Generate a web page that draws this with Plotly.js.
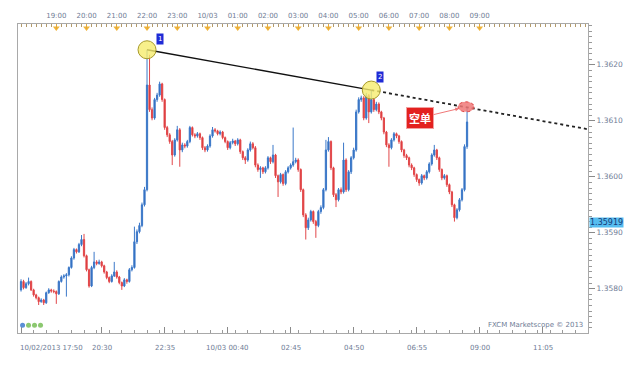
<!DOCTYPE html>
<html>
<head>
<meta charset="utf-8">
<script src="https://cdn.plot.ly/plotly-3.0.1.min.js"></script>
<style>html,body{margin:0;padding:0;background:#fff;}#chart{width:630px;height:365px;}</style>
</head>
<body>
<div id="chart"></div>
<script>
// 5-minute candles, EUR/USD style quotes (FXCM Marketscope), 10/02/2013 17:50 -> 10/03/2013 08:35
const day1Clock = ['17:50','17:55',
 '18:00','18:05','18:10','18:15','18:20','18:25','18:30','18:35','18:40','18:45','18:50','18:55',
 '19:00','19:05','19:10','19:15','19:20','19:25','19:30','19:35','19:40','19:45','19:50','19:55',
 '20:00','20:05','20:10','20:15','20:20','20:25','20:30','20:35','20:40','20:45','20:50','20:55',
 '21:00','21:05','21:10','21:15','21:20','21:25','21:30','21:35','21:40','21:45','21:50','21:55',
 '22:00','22:05','22:10','22:15','22:20','22:25','22:30','22:35','22:40','22:45','22:50','22:55',
 '23:00','23:05','23:10','23:15','23:20','23:25','23:30','23:35','23:40','23:45','23:50','23:55'];
const day2Clock = [
 '00:00','00:05','00:10','00:15','00:20','00:25','00:30','00:35','00:40','00:45','00:50','00:55',
 '01:00','01:05','01:10','01:15','01:20','01:25','01:30','01:35','01:40','01:45','01:50','01:55',
 '02:00','02:05','02:10','02:15','02:20','02:25','02:30','02:35','02:40','02:45','02:50','02:55',
 '03:00','03:05','03:10','03:15','03:20','03:25','03:30','03:35','03:40','03:45','03:50','03:55',
 '04:00','04:05','04:10','04:15','04:20','04:25','04:30','04:35','04:40','04:45','04:50','04:55',
 '05:00','05:05','05:10','05:15','05:20','05:25','05:30','05:35','05:40','05:45','05:50','05:55',
 '06:00','06:05','06:10','06:15','06:20','06:25','06:30','06:35','06:40','06:45','06:50','06:55',
 '07:00','07:05','07:10','07:15','07:20','07:25','07:30','07:35','07:40','07:45','07:50','07:55',
 '08:00','08:05','08:10','08:15','08:20','08:25','08:30','08:35'];

const openPrices = [
 1.35798,1.35813,1.35802,1.35809,1.35813,1.35798,1.35789,1.35784,1.35777,1.35780,
 1.35775,1.35793,1.35798,1.35796,1.35795,1.35791,1.35813,1.35821,1.35823,1.35825,
 1.35838,1.35855,1.35870,1.35866,1.35879,1.35888,1.35859,1.35834,1.35805,1.35838,
 1.35848,1.35845,1.35848,1.35841,1.35830,1.35820,1.35813,1.35823,1.35830,1.35821,
 1.35811,1.35805,1.35816,1.35813,1.35834,1.35838,1.35884,1.35902,1.35913,1.35950,
 1.35977,1.36164,1.36120,1.36105,1.36138,1.36146,1.36166,1.36138,1.36088,1.36075,
 1.36063,1.36039,1.36066,1.36084,1.36048,1.36057,1.36055,1.36063,1.36088,1.36075,
 1.36073,1.36077,1.36070,1.36052,1.36048,1.36055,1.36073,1.36084,1.36082,1.36077,
 1.36080,1.36070,1.36063,1.36052,1.36061,1.36064,1.36059,1.36066,1.36045,1.36034,
 1.36030,1.36048,1.36059,1.36052,1.36021,1.36013,1.36016,1.36009,1.36016,1.36034,
 1.36027,1.36039,1.36002,1.35991,1.36004,1.35988,1.36009,1.36016,1.36021,1.36027,
 1.36030,1.36013,1.35977,1.35932,1.35909,1.35923,1.35938,1.35920,1.35913,1.35938,
 1.35945,1.35977,1.36048,1.36063,1.36016,1.35968,1.35959,1.35977,1.35973,1.36030,
 1.35977,1.36009,1.36034,1.36048,1.36116,1.36138,1.36141,1.36105,1.36145,1.36116,
 1.36138,1.36120,1.36130,1.36116,1.36105,1.36080,1.36057,1.36052,1.36066,1.36077,
 1.36073,1.36063,1.36048,1.36038,1.36034,1.36021,1.36016,1.36004,1.35995,1.35989,
 1.36002,1.35998,1.36009,1.36023,1.36039,1.36048,1.36034,1.36013,1.35998,1.36002,
 1.35986,1.35973,1.35950,1.35927,1.35941,1.35959,1.35977,1.36054];
const highPrices = [
 1.35817,1.35816,1.35812,1.35820,1.35815,1.35800,1.35791,1.35786,1.35783,1.35782,
 1.35795,1.35801,1.35800,1.35799,1.35797,1.35815,1.35824,1.35826,1.35828,1.35840,
 1.35858,1.35873,1.35872,1.35882,1.35896,1.35898,1.35861,1.35836,1.35841,1.35866,
 1.35851,1.35852,1.35850,1.35843,1.35832,1.35822,1.35826,1.35848,1.35833,1.35823,
 1.35813,1.35819,1.35818,1.35837,1.35842,1.35911,1.35906,1.35918,1.35954,1.35982,
 1.36227,1.36218,1.36124,1.36141,1.36150,1.36170,1.36168,1.36140,1.36091,1.36078,
 1.36066,1.36069,1.36091,1.36087,1.36061,1.36060,1.36066,1.36091,1.36090,1.36078,
 1.36080,1.36079,1.36072,1.36055,1.36058,1.36076,1.36089,1.36087,1.36084,1.36083,
 1.36082,1.36072,1.36065,1.36064,1.36068,1.36066,1.36069,1.36068,1.36047,1.36037,
 1.36051,1.36063,1.36062,1.36055,1.36024,1.36019,1.36018,1.36019,1.36037,1.36036,
 1.36057,1.36041,1.36004,1.36007,1.36006,1.36012,1.36019,1.36024,1.36088,1.36034,
 1.36033,1.36015,1.35979,1.35935,1.35927,1.35941,1.35940,1.35923,1.35941,1.35949,
 1.35980,1.36066,1.36071,1.36065,1.36018,1.35971,1.35980,1.35981,1.36061,1.36033,
 1.36012,1.36037,1.36052,1.36120,1.36142,1.36145,1.36144,1.36150,1.36148,1.36155,
 1.36141,1.36134,1.36133,1.36118,1.36107,1.36082,1.36060,1.36069,1.36080,1.36079,
 1.36075,1.36065,1.36050,1.36041,1.36036,1.36024,1.36018,1.36006,1.35997,1.36005,
 1.36004,1.36012,1.36026,1.36042,1.36057,1.36050,1.36036,1.36015,1.36005,1.36004,
 1.35988,1.35975,1.35952,1.35944,1.35962,1.35980,1.36058,1.36123];
const lowPrices = [
 1.35795,1.35799,1.35800,1.35806,1.35796,1.35786,1.35781,1.35771,1.35775,1.35771,
 1.35773,1.35791,1.35793,1.35792,1.35773,1.35789,1.35811,1.35818,1.35786,1.35822,
 1.35836,1.35852,1.35863,1.35864,1.35876,1.35856,1.35831,1.35802,1.35803,1.35835,
 1.35842,1.35843,1.35838,1.35827,1.35817,1.35810,1.35811,1.35821,1.35818,1.35808,
 1.35798,1.35803,1.35809,1.35811,1.35831,1.35836,1.35880,1.35899,1.35910,1.35947,
 1.35974,1.36116,1.36101,1.36102,1.36134,1.36143,1.36134,1.36084,1.36071,1.36059,
 1.36021,1.36036,1.36063,1.36018,1.36044,1.36051,1.36052,1.36060,1.36072,1.36069,
 1.36070,1.36066,1.36048,1.36044,1.36045,1.36052,1.36070,1.36079,1.36074,1.36074,
 1.36067,1.36060,1.36048,1.36049,1.36058,1.36055,1.36056,1.36041,1.36030,1.36023,
 1.36027,1.36045,1.36049,1.36017,1.36009,1.35998,1.36005,1.36006,1.36013,1.36023,
 1.36024,1.35998,1.35964,1.35988,1.35984,1.35985,1.36006,1.36013,1.36018,1.36024,
 1.36009,1.35973,1.35928,1.35888,1.35905,1.35920,1.35916,1.35891,1.35910,1.35934,
 1.35942,1.35974,1.36045,1.36012,1.35964,1.35946,1.35956,1.35969,1.35970,1.35973,
 1.35974,1.36005,1.36031,1.36045,1.36113,1.36134,1.36101,1.36102,1.36096,1.36113,
 1.36116,1.36117,1.36112,1.36101,1.36076,1.36053,1.36018,1.36049,1.36063,1.36069,
 1.36059,1.36044,1.36034,1.36030,1.36017,1.36012,1.36000,1.35991,1.35984,1.35986,
 1.35994,1.35995,1.36006,1.36020,1.36036,1.36030,1.36009,1.35994,1.35995,1.35982,
 1.35969,1.35946,1.35920,1.35924,1.35938,1.35956,1.35974,1.36050];
const closePrices = [
 1.35813,1.35802,1.35809,1.35813,1.35798,1.35789,1.35784,1.35777,1.35780,1.35775,
 1.35793,1.35798,1.35796,1.35795,1.35791,1.35813,1.35821,1.35823,1.35825,1.35838,
 1.35855,1.35870,1.35866,1.35879,1.35888,1.35859,1.35834,1.35805,1.35838,1.35848,
 1.35845,1.35848,1.35841,1.35830,1.35820,1.35813,1.35823,1.35830,1.35821,1.35811,
 1.35805,1.35816,1.35813,1.35834,1.35838,1.35884,1.35902,1.35913,1.35950,1.35977,
 1.36164,1.36120,1.36105,1.36138,1.36146,1.36166,1.36138,1.36088,1.36075,1.36063,
 1.36039,1.36066,1.36084,1.36048,1.36057,1.36055,1.36063,1.36088,1.36075,1.36073,
 1.36077,1.36070,1.36052,1.36048,1.36055,1.36073,1.36084,1.36082,1.36077,1.36080,
 1.36070,1.36063,1.36052,1.36061,1.36064,1.36059,1.36066,1.36045,1.36034,1.36030,
 1.36048,1.36059,1.36052,1.36021,1.36013,1.36016,1.36009,1.36016,1.36034,1.36027,
 1.36039,1.36002,1.35991,1.36004,1.35988,1.36009,1.36016,1.36021,1.36027,1.36030,
 1.36013,1.35977,1.35932,1.35909,1.35923,1.35938,1.35920,1.35913,1.35938,1.35945,
 1.35977,1.36048,1.36063,1.36016,1.35968,1.35959,1.35977,1.35973,1.36030,1.35977,
 1.36009,1.36034,1.36048,1.36116,1.36138,1.36141,1.36105,1.36145,1.36116,1.36138,
 1.36120,1.36130,1.36116,1.36105,1.36080,1.36057,1.36052,1.36066,1.36077,1.36073,
 1.36063,1.36048,1.36038,1.36034,1.36021,1.36016,1.36004,1.35995,1.35989,1.36002,
 1.35998,1.36009,1.36023,1.36039,1.36048,1.36034,1.36013,1.35998,1.36002,1.35986,
 1.35973,1.35950,1.35927,1.35941,1.35959,1.35977,1.36054,1.36098];

// Trend line through the two marked highs, extended to the right edge
const trendTimes  = ['2013-10-02 22:00','2013-10-03 05:25','2013-10-03 12:35'];
const trendPrices = [1.36227, 1.36155, 1.36085];
const pointLabels = ['1','2'];
// Short-entry target on the extended trend line
const targetTime = '2013-10-03 08:33';
const targetPrice = 1.36125;
const targetLabel = '空单';
const lastPrice = 1.35919;

// Axis labels
const bottomTickTimes = ['2013-10-02 17:50','2013-10-02 20:30','2013-10-02 22:35','2013-10-03 00:40','2013-10-03 02:45','2013-10-03 04:50','2013-10-03 06:55','2013-10-03 09:00','2013-10-03 11:05'];
const bottomTickLabels = ['10/02/2013 17:50','20:30','22:35','10/03 00:40','02:45','04:50','06:55','09:00','11:05'];
const topTickTimes = ['2013-10-02 19:00','2013-10-02 20:00','2013-10-02 21:00','2013-10-02 22:00','2013-10-02 23:00','2013-10-03 00:00','2013-10-03 01:00','2013-10-03 02:00','2013-10-03 03:00','2013-10-03 04:00','2013-10-03 05:00','2013-10-03 06:00','2013-10-03 07:00','2013-10-03 08:00','2013-10-03 09:00'];
const topTickLabels = ['19:00','20:00','21:00','22:00','23:00','10/03','01:00','02:00','03:00','04:00','05:00','06:00','07:00','08:00','09:00'];
const priceTicks = [1.3580, 1.3590, 1.3600, 1.3610, 1.3620];

const xRange = ['2013-10-02 17:44', '2013-10-03 12:35'];
const yRange = [1.35721, 1.36273];
const markerRowPrice = 1.36266;

const times = day1Clock.map(t => '2013-10-02 ' + t).concat(day2Clock.map(t => '2013-10-03 ' + t));

const FONT = 'DejaVu Sans, Verdana, sans-serif';
const TXT = '#6f7c96';

const traces = [
  {
    type: 'candlestick', x: times, open: openPrices, high: highPrices, low: lowPrices, close: closePrices,
    xaxis: 'x', yaxis: 'y',
    increasing: {line: {color: '#3b78c9', width: 1}, fillcolor: '#2f69b8'},
    decreasing: {line: {color: '#e2474a', width: 1}, fillcolor: '#d9302f'},
    whiskerwidth: 0, hoverinfo: 'skip', showlegend: false
  },
  {
    type: 'scatter', mode: 'lines', x: trendTimes.slice(0, 2), y: trendPrices.slice(0, 2),
    line: {color: '#111', width: 1.3}, hoverinfo: 'skip', showlegend: false
  },
  {
    type: 'scatter', mode: 'lines', x: trendTimes.slice(1), y: trendPrices.slice(1),
    line: {color: '#222', width: 1.8, dash: 'dot'}, hoverinfo: 'skip', showlegend: false
  },
  {
    type: 'scatter', mode: 'markers', x: topTickTimes, y: topTickTimes.map(() => markerRowPrice),
    marker: {symbol: 'triangle-down', size: 6, color: '#f0b43a'}, cliponaxis: false,
    hoverinfo: 'skip', showlegend: false
  }
];

const shapes = [];
trendTimes.slice(0, 2).forEach((t, i) => {
  shapes.push({type: 'circle', xref: 'x', yref: 'y', xsizemode: 'pixel', ysizemode: 'pixel',
    xanchor: t, yanchor: trendPrices[i], x0: -9, x1: 9, y0: -9, y1: 9,
    fillcolor: 'rgba(246,236,110,0.8)', line: {color: '#a89a2a', width: 1}});
});
shapes.push({type: 'circle', xref: 'x', yref: 'y', xsizemode: 'pixel', ysizemode: 'pixel',
  xanchor: targetTime, yanchor: targetPrice, x0: -8, x1: 8, y0: -5, y1: 5,
  fillcolor: 'rgba(240,120,120,0.85)', line: {color: '#e04545', width: 1, dash: 'dot'}});
['#5b8fd6', '#8cc870', '#8cc870', '#8cc870'].forEach((c, i) => {
  shapes.push({type: 'circle', xref: 'paper', yref: 'paper', xsizemode: 'pixel', ysizemode: 'pixel',
    xanchor: 0.008 + i * 0.0105, yanchor: 0.025, x0: -2.5, x1: 2.5, y0: -2.5, y1: 2.5,
    fillcolor: c, line: {width: 0}});
});

const annotations = [];
bottomTickTimes.forEach((t, i) => {
  annotations.push({xref: 'x', yref: 'paper', x: t, y: 0, yshift: -9, text: bottomTickLabels[i],
    showarrow: false, xanchor: i === 0 ? 'left' : 'center', yanchor: 'top',
    xshift: i === 0 ? -3 : 0, font: {family: FONT, size: 7, color: TXT}});
});
pointLabels.forEach((lab, i) => {
  annotations.push({xref: 'x', yref: 'y', x: trendTimes[i], y: trendPrices[i], text: lab, showarrow: false,
    xshift: i === 0 ? 13 : 9, yshift: i === 0 ? 11 : 13, bgcolor: '#1f2bd6', borderpad: 1,
    font: {family: FONT, size: 7, color: '#ffffff'}});
});
annotations.push({xref: 'x', yref: 'y', x: targetTime, y: targetPrice, text: '<b>' + targetLabel + '</b>',
  showarrow: true, arrowhead: 2, arrowsize: 0.8, arrowwidth: 1, arrowcolor: '#f07878', standoff: 7,
  ax: -46, ay: 11, bgcolor: '#e3211f', bordercolor: '#f2a0a0', borderwidth: 1, borderpad: 2,
  font: {family: 'Noto Sans CJK SC', size: 11, color: '#ffffff'}});
annotations.push({xref: 'paper', yref: 'y', x: 1, y: lastPrice, xanchor: 'left', xshift: 1, text: lastPrice.toFixed(5),
  showarrow: false, bgcolor: '#56bdf0', borderpad: 0, font: {family: FONT, size: 8, color: '#173a78'}});
annotations.push({xref: 'paper', yref: 'paper', x: 0.995, y: 0.005, xanchor: 'right', yanchor: 'bottom',
  text: 'FXCM Marketscope © 2013', showarrow: false, font: {family: FONT, size: 7, color: TXT}});

const layout = {
  width: 630, height: 365,
  margin: {l: 18, r: 42, t: 24, b: 32},
  paper_bgcolor: '#ffffff', plot_bgcolor: '#ffffff',
  showlegend: false,
  font: {family: FONT, size: 7, color: TXT},
  xaxis: {
    type: 'date', range: xRange, rangeslider: {visible: false},
    showgrid: false, zeroline: false, showline: true, linecolor: '#a9a9a9', linewidth: 1,
    tickmode: 'array', tickvals: bottomTickTimes, showticklabels: false,
    ticks: 'inside', ticklen: 6, tickcolor: '#8a8a8a',
    minor: {tick0: '2013-10-02 17:50', dtick: 1500000, ticks: 'inside', ticklen: 3, tickcolor: '#9a9a9a'}
  },
  xaxis2: {
    type: 'date', overlaying: 'x', matches: 'x', side: 'top', range: xRange,
    showgrid: false, zeroline: false, showline: true, linecolor: '#a9a9a9', linewidth: 1,
    tickmode: 'array', tickvals: topTickTimes, ticktext: topTickLabels,
    ticks: 'inside', ticklen: 5, tickcolor: '#e3a93a', ticklabelstandoff: 2,
    tickfont: {family: FONT, size: 7, color: TXT},
    minor: {tick0: '2013-10-02 17:50', dtick: 600000, ticks: 'inside', ticklen: 3, tickcolor: '#b39a6a'}
  },
  yaxis: {
    range: yRange, side: 'right', showgrid: false, zeroline: false,
    showline: true, mirror: true, linecolor: '#a9a9a9', linewidth: 1,
    tickmode: 'array', tickvals: priceTicks, tickformat: '.4f',
    ticks: 'outside', ticklen: 6, tickcolor: '#8a8a8a',
    tickfont: {family: FONT, size: 7.5, color: TXT},
    minor: {dtick: 0.0001, ticks: 'outside', ticklen: 3, tickcolor: '#9a9a9a'}
  },
  shapes: shapes,
  annotations: annotations
};

// invisible trace to activate the top axis
traces.push({type: 'scatter', mode: 'markers', x: [times[0]], y: [closePrices[0]], xaxis: 'x2', yaxis: 'y',
  marker: {opacity: 0}, hoverinfo: 'skip', showlegend: false});

Plotly.newPlot('chart', traces, layout, {displayModeBar: false, staticPlot: true});
</script>
</body>
</html>
